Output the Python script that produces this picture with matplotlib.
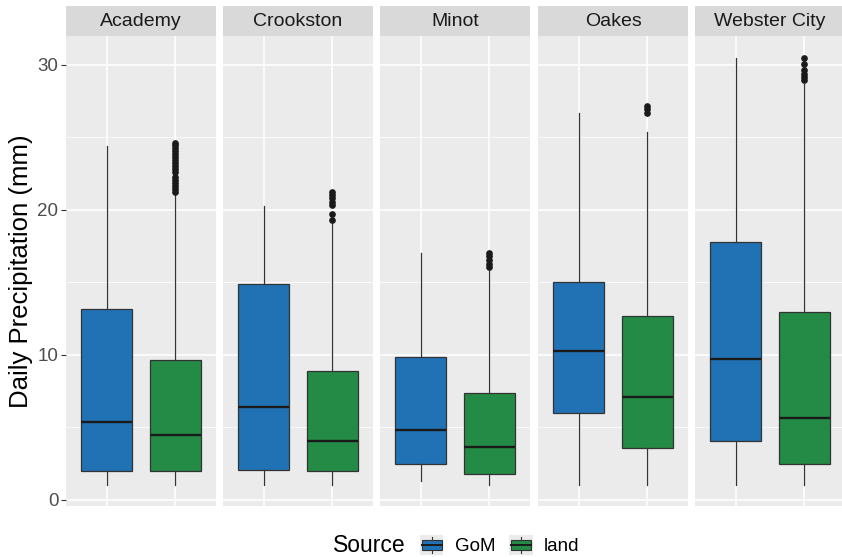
import matplotlib.pyplot as plt
from matplotlib.patches import Rectangle, Patch
from matplotlib.lines import Line2D
from matplotlib.legend_handler import HandlerBase

plt.rcParams['font.family'] = ['Liberation Sans', 'DejaVu Sans']

sites = ['Academy', 'Crookston', 'Minot', 'Oakes', 'Webster City']
sources = ['GoM', 'land']
colors = {'GoM': '#2171b5', 'land': '#238b45'}

# box statistics (mm)
gom_low = [1.0, 1.0, 1.3, 1.0, 1.0]
gom_q1 = [2.0, 2.05, 2.5, 6.0, 4.1]
gom_med = [5.35, 6.4, 4.8, 10.25, 9.7]
gom_q3 = [13.2, 14.9, 9.85, 15.0, 17.8]
gom_high = [24.4, 20.3, 17.0, 26.7, 30.45]
gom_out = [[], [], [], [], []]

land_low = [1.0, 1.0, 1.0, 1.0, 1.0]
land_q1 = [2.0, 2.0, 1.8, 3.6, 2.5]
land_med = [4.45, 4.1, 3.65, 7.1, 5.65]
land_q3 = [9.65, 8.9, 7.35, 12.7, 12.95]
land_high = [21.1, 19.1, 15.85, 25.4, 28.7]
land_out = [
    [21.25, 21.45, 21.65, 21.85, 22.05, 22.3, 22.6, 22.85, 23.05, 23.25,
     23.45, 23.65, 23.85, 24.05, 24.25, 24.45, 24.65],
    [19.3, 19.75, 20.35, 20.55, 20.8, 21.05, 21.25],
    [16.1, 16.3, 16.55, 16.8, 17.0],
    [26.7, 26.95, 27.15],
    [28.95, 29.15, 29.4, 29.65, 30.1, 30.45],
]

gom = (gom_low, gom_q1, gom_med, gom_q3, gom_high, gom_out)
land = (land_low, land_q1, land_med, land_q3, land_high, land_out)


def stats_for(src, i):
    low, q1, med, q3, high, out = src
    return {'whislo': low[i], 'q1': q1[i], 'med': med[i], 'q3': q3[i],
            'whishi': high[i], 'fliers': out[i]}


class BoxKey(HandlerBase):
    # ggplot-style boxplot key: grey square, box, median and whisker
    def create_artists(self, legend, orig_handle, xdescent, ydescent,
                       width, height, fontsize, trans):
        x0, y0 = -xdescent, -ydescent
        bg = Rectangle((x0, y0), width, height,
                       facecolor='#EBEBEB', edgecolor='none', transform=trans)
        cx = x0 + width / 2
        cy = y0 + height / 2
        whisk = Line2D([cx, cx], [y0 + height * 0.1, y0 + height * 0.9],
                       color='#333333', lw=0.8, transform=trans)
        bw, bh = width * 0.85, height * 0.5
        box = Rectangle((cx - bw / 2, cy - bh / 2), bw, bh,
                        facecolor=orig_handle.get_facecolor(),
                        edgecolor='#333333', lw=0.8, transform=trans)
        med = Line2D([cx - bw / 2, cx + bw / 2], [cy, cy],
                     color='#1a1a1a', lw=1.4, transform=trans)
        return [bg, whisk, box, med]


W, H = 842, 557
fig = plt.figure(figsize=(W / 100, H / 100), dpi=100)

lefts = [66, 223, 380, 538, 695]
pw = 150
top, bottom = 36, 506
axes = []
for k, site in enumerate(sites):
    ax = fig.add_axes([lefts[k] / W, (H - bottom) / H, pw / W, (bottom - top) / H])
    ax.set_facecolor('#EBEBEB')
    for s in ax.spines.values():
        s.set_visible(False)
    bp = ax.bxp([stats_for(gom, k), stats_for(land, k)], positions=[1, 2],
                widths=0.75, patch_artist=True, showcaps=False,
                boxprops=dict(edgecolor='#333333', lw=0.9),
                whiskerprops=dict(color='#333333', lw=0.9),
                medianprops=dict(color='#1a1a1a', lw=1.7),
                flierprops=dict(marker='o', markersize=3.8,
                                markerfacecolor='#1a1a1a',
                                markeredgecolor='#1a1a1a'))
    for patch, src in zip(bp['boxes'], sources):
        patch.set_facecolor(colors[src])
    ax.set_xlim(0.4, 2.6)
    ax.set_ylim(-0.414, 32.0)
    ax.set_yticks([0, 10, 20, 30])
    ax.set_yticks([5, 15, 25], minor=True)
    ax.set_xticks([1, 2])
    ax.set_xticklabels([])
    ax.grid(which='major', color='white', lw=1.1)
    ax.grid(which='minor', axis='y', color='white', lw=0.55)
    ax.set_axisbelow(True)
    ax.tick_params(axis='x', length=0)
    ax.tick_params(axis='y', which='minor', length=0)
    if k == 0:
        ax.tick_params(axis='y', which='major', length=3.5, width=0.8,
                       color='#333333', labelsize=13.5, labelcolor='#4D4D4D', pad=2)
        ax.set_ylabel('Daily Precipitation (mm)', fontsize=18.5, labelpad=3)
    else:
        ax.tick_params(axis='y', which='major', length=0, labelleft=False)
    strip_h = 30 / (bottom - top)
    ax.add_patch(Rectangle((0, 1), 1, strip_h, transform=ax.transAxes,
                           facecolor='#D9D9D9', edgecolor='none', clip_on=False))
    ax.text(0.5, 1 + strip_h / 2, site, transform=ax.transAxes, ha='center',
            va='center', fontsize=14, color='#1a1a1a')
    axes.append(ax)

fig.text(333 / W, 1 - 545 / H, 'Source', fontsize=16.5, ha='left', va='center')
handles = [Patch(facecolor=colors[s], label=s) for s in sources]
fig.legend(handles=handles, handler_map={Patch: BoxKey()}, loc='center left',
           bbox_to_anchor=(420 / W, 1 - 545 / H), ncol=2, frameon=False,
           fontsize=13.5, handlelength=1.25, handleheight=1.25, handletextpad=0.6,
           columnspacing=0.75, borderpad=0, borderaxespad=0)

fig.savefig('out.png', dpi=100)
